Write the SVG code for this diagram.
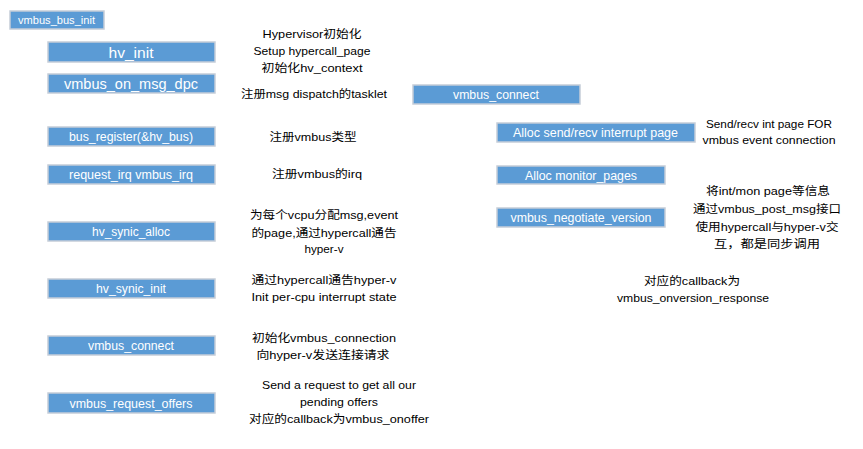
<svg xmlns="http://www.w3.org/2000/svg" width="863" height="449" viewBox="0 0 863 449">
<style>
.box{fill:#5B9BD5;stroke:#C5CDD8;stroke-width:1.5}
.bt{fill:#FFFFFF;font-family:"Liberation Sans","Noto Sans CJK SC",sans-serif;font-size:12px;text-anchor:middle}
.big{font-size:15px}
.sm{font-size:11px}
.d{fill:#000000;font-family:"Liberation Sans","Noto Sans CJK SC",sans-serif;font-size:11.5px;text-anchor:middle}
</style>
<rect width="863" height="449" fill="#FFFFFF"/>
<g id="vmbus_bus_init"><rect class="box" x="10" y="11" width="94" height="18"/><text class="bt sm" x="56.5" y="24" textLength="77" lengthAdjust="spacingAndGlyphs">vmbus_bus_init</text></g>
<g id="hv_init"><rect class="box" x="48" y="42" width="167" height="20"/><text class="bt big" x="131" y="57.5" textLength="45" lengthAdjust="spacingAndGlyphs">hv_init</text></g>
<g id="vmbus_on_msg_dpc"><rect class="box" x="48" y="74" width="167" height="19"/><text class="bt big" x="131" y="89" textLength="134" lengthAdjust="spacingAndGlyphs">vmbus_on_msg_dpc</text></g>
<g id="bus_register"><rect class="box" x="48" y="127" width="167" height="19"/><text class="bt" x="131" y="141" textLength="124" lengthAdjust="spacingAndGlyphs">bus_register(&amp;hv_bus)</text></g>
<g id="request_irq"><rect class="box" x="48" y="165" width="167" height="19"/><text class="bt" x="131" y="179" textLength="124" lengthAdjust="spacingAndGlyphs">request_irq vmbus_irq</text></g>
<g id="hv_synic_alloc"><rect class="box" x="48" y="222" width="167" height="19"/><text class="bt" x="131" y="236" textLength="78" lengthAdjust="spacingAndGlyphs">hv_synic_alloc</text></g>
<g id="hv_synic_init"><rect class="box" x="48" y="279" width="167" height="19"/><text class="bt" x="131" y="293" textLength="70" lengthAdjust="spacingAndGlyphs">hv_synic_init</text></g>
<g id="vmbus_connect_left"><rect class="box" x="48" y="336" width="167" height="19"/><text class="bt" x="131" y="350" textLength="86" lengthAdjust="spacingAndGlyphs">vmbus_connect</text></g>
<g id="vmbus_request_offers"><rect class="box" x="48" y="393" width="167" height="20"/><text class="bt" x="131" y="407.5" textLength="123" lengthAdjust="spacingAndGlyphs">vmbus_request_offers</text></g>
<g id="vmbus_connect_right"><rect class="box" x="413" y="85" width="167" height="19"/><text class="bt" x="496" y="99" textLength="86" lengthAdjust="spacingAndGlyphs">vmbus_connect</text></g>
<g id="alloc_send_recv"><rect class="box" x="497" y="123" width="198" height="19"/><text class="bt" x="595.5" y="137" textLength="165" lengthAdjust="spacingAndGlyphs">Alloc send/recv interrupt page</text></g>
<g id="alloc_monitor_pages"><rect class="box" x="497" y="166" width="168" height="18"/><text class="bt" x="581" y="179.5" textLength="112" lengthAdjust="spacingAndGlyphs">Alloc monitor_pages</text></g>
<g id="vmbus_negotiate_version"><rect class="box" x="497" y="208" width="168" height="19"/><text class="bt" x="581" y="222" textLength="141" lengthAdjust="spacingAndGlyphs">vmbus_negotiate_version</text></g>
<g id="labels">
<text class="d" x="312" y="38" textLength="99" lengthAdjust="spacingAndGlyphs">Hypervisor初始化</text>
<text class="d" x="312" y="54.5" textLength="117" lengthAdjust="spacingAndGlyphs">Setup hypercall_page</text>
<text class="d" x="312" y="72" textLength="101" lengthAdjust="spacingAndGlyphs">初始化hv_context</text>
<text class="d" x="314" y="98" textLength="146" lengthAdjust="spacingAndGlyphs">注册msg dispatch的tasklet</text>
<text class="d" x="313" y="141" textLength="87" lengthAdjust="spacingAndGlyphs">注册vmbus类型</text>
<text class="d" x="317" y="178" textLength="90" lengthAdjust="spacingAndGlyphs">注册vmbus的irq</text>
<text class="d" x="324" y="219" textLength="148" lengthAdjust="spacingAndGlyphs">为每个vcpu分配msg,event</text>
<text class="d" x="324" y="237" textLength="145" lengthAdjust="spacingAndGlyphs">的page,通过hypercall通告</text>
<text class="d" x="324" y="253" textLength="39" lengthAdjust="spacingAndGlyphs">hyper-v</text>
<text class="d" x="324" y="284" textLength="145" lengthAdjust="spacingAndGlyphs">通过hypercall通告hyper-v</text>
<text class="d" x="324" y="301" textLength="145" lengthAdjust="spacingAndGlyphs">Init per-cpu interrupt state</text>
<text class="d" x="324" y="342" textLength="144" lengthAdjust="spacingAndGlyphs">初始化vmbus_connection</text>
<text class="d" x="323" y="359" textLength="133" lengthAdjust="spacingAndGlyphs">向hyper-v发送连接请求</text>
<text class="d" x="339" y="389" textLength="154" lengthAdjust="spacingAndGlyphs">Send a request to get all our</text>
<text class="d" x="339" y="406" textLength="78" lengthAdjust="spacingAndGlyphs">pending offers</text>
<text class="d" x="339" y="423" textLength="180" lengthAdjust="spacingAndGlyphs">对应的callback为vmbus_onoffer</text>
<text class="d" x="769" y="128" textLength="126" lengthAdjust="spacingAndGlyphs">Send/recv int page FOR</text>
<text class="d" x="769" y="144" textLength="133" lengthAdjust="spacingAndGlyphs">vmbus event connection</text>
<text class="d" x="768" y="195" textLength="124" lengthAdjust="spacingAndGlyphs">将int/mon page等信息</text>
<text class="d" x="767" y="213" textLength="148" lengthAdjust="spacingAndGlyphs">通过vmbus_post_msg接口</text>
<text class="d" x="767" y="230.5" textLength="143" lengthAdjust="spacingAndGlyphs">使用hypercall与hyper-v交</text>
<text class="d" x="767" y="248" textLength="106" lengthAdjust="spacingAndGlyphs">互，都是同步调用</text>
<text class="d" x="692" y="285" textLength="96" lengthAdjust="spacingAndGlyphs">对应的callback为</text>
<text class="d" x="693" y="302" textLength="152" lengthAdjust="spacingAndGlyphs">vmbus_onversion_response</text>
</g>
</svg>
